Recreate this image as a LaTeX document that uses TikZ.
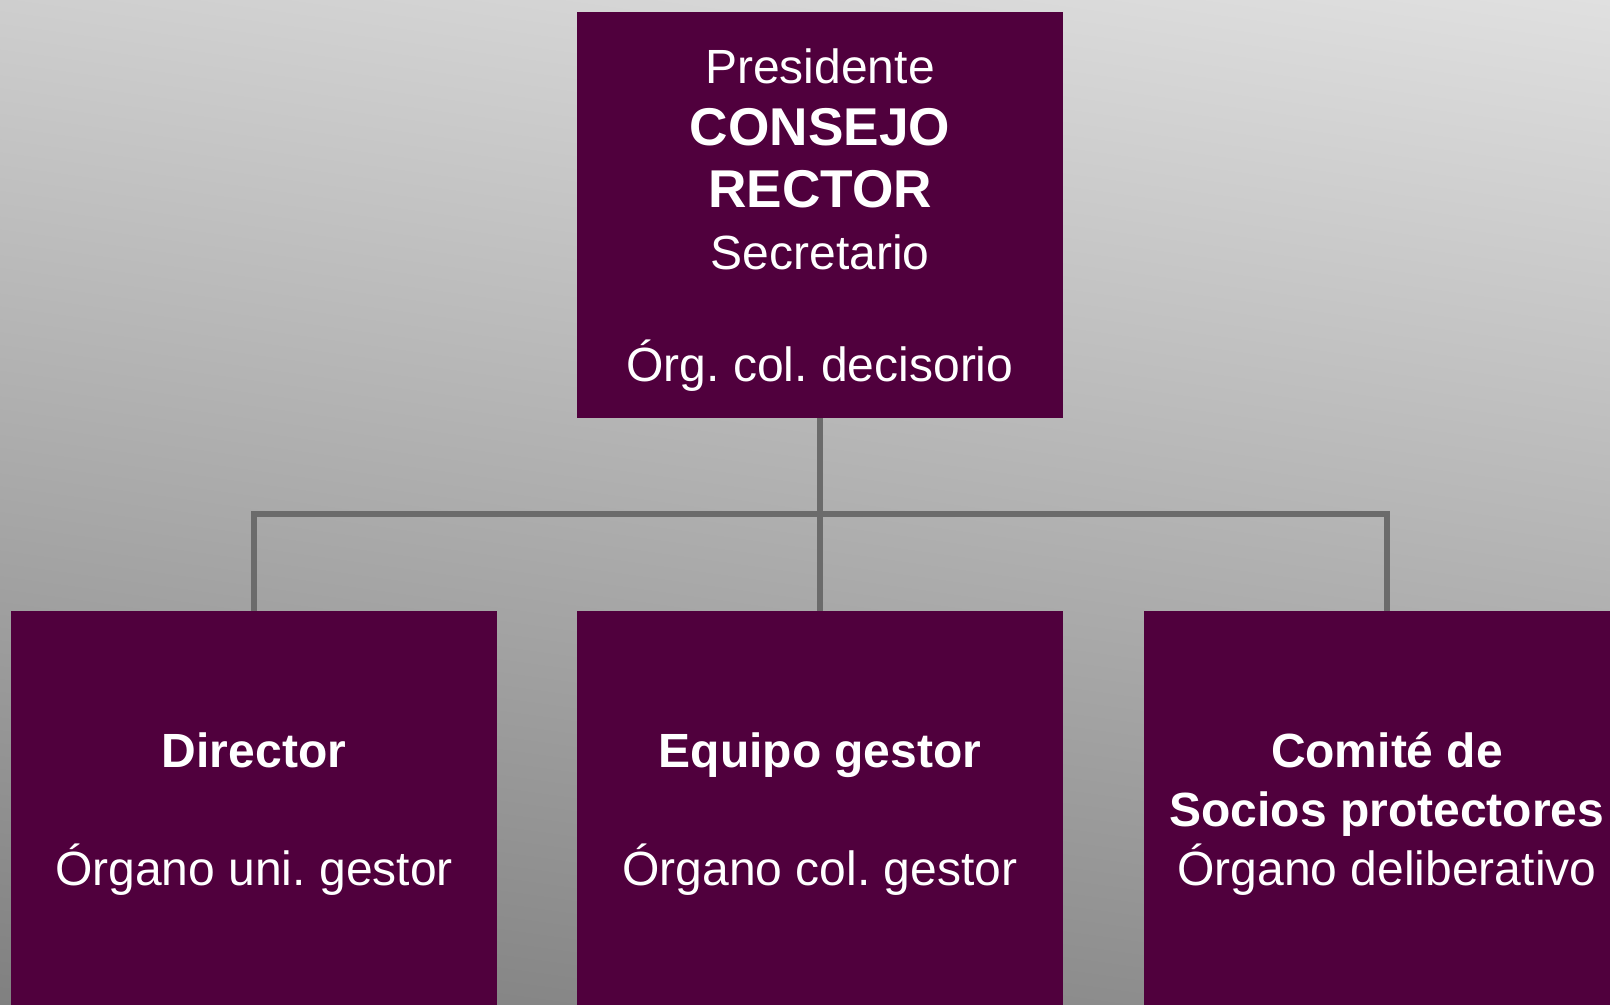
\documentclass[tikz,border=0pt]{standalone}
\usepackage{fontspec}
\setmainfont{Liberation Sans}
\frenchspacing
\definecolor{boxPurple}{RGB}{80,0,61}
\definecolor{lineGray}{RGB}{107,107,107}
\definecolor{bgTop}{RGB}{234,234,234}
\definecolor{bgMid}{RGB}{190,190,190}
\definecolor{bgBottom}{RGB}{118,118,118}
\newcommand{\bigbold}[1]{{\fontsize{26.6pt}{31pt}\selectfont\textbf{#1}}}

\begin{document}
\begin{tikzpicture}
[x=0.5pt,y=-0.5pt,
  boxDecorate/.style={rectangle,fill=boxPurple,text=white,inner sep=0pt,
    minimum width=243pt,minimum height=203pt,align=center,
    font=\fontsize{24pt}{29.5pt}\selectfont},
  lineDecorate/.style={-,draw=lineGray,line width=2.6pt}]
%% background
\useasboundingbox (0,0) rectangle (1610,1005);
\clip (0,0) rectangle (1610,1005);
\shade[top color=bgTop,middle color=bgMid,bottom color=bgBottom,shading angle=-8]
  (-200,-200) rectangle (1810,1205);
%% nodes or boxes
\node (rector) at (820,215) [boxDecorate,text depth=0pt,
  font=\fontsize{24pt}{31pt}\selectfont]
  {Presidente\\\bigbold{CONSEJO\hspace*{0.278em}}\\\bigbold{RECTOR}\\Secretario\\[25pt]Órg. col. decisorio};
\foreach \nodename/\x/\content in {
  dir/254/{\textbf{Director}\\[29.5pt]Órgano uni. gestor},
  equ/820/{\textbf{Equipo gestor}\\[29.5pt]Órgano col. gestor},
  com/1387/{\textbf{Comité de}\\\textbf{Socios protectores}\\Órgano deliberativo}}
{
  \node (\nodename) at (\x,814) [boxDecorate] {\content};
}
%% edges or lines
\coordinate (bus) at (820,514);
\path (rector.south) edge[lineDecorate] (bus);
\foreach \endnode in {dir,equ,com}
{
  \draw[lineDecorate] (bus) -| (\endnode.north);
}
\end{tikzpicture}
\end{document}
